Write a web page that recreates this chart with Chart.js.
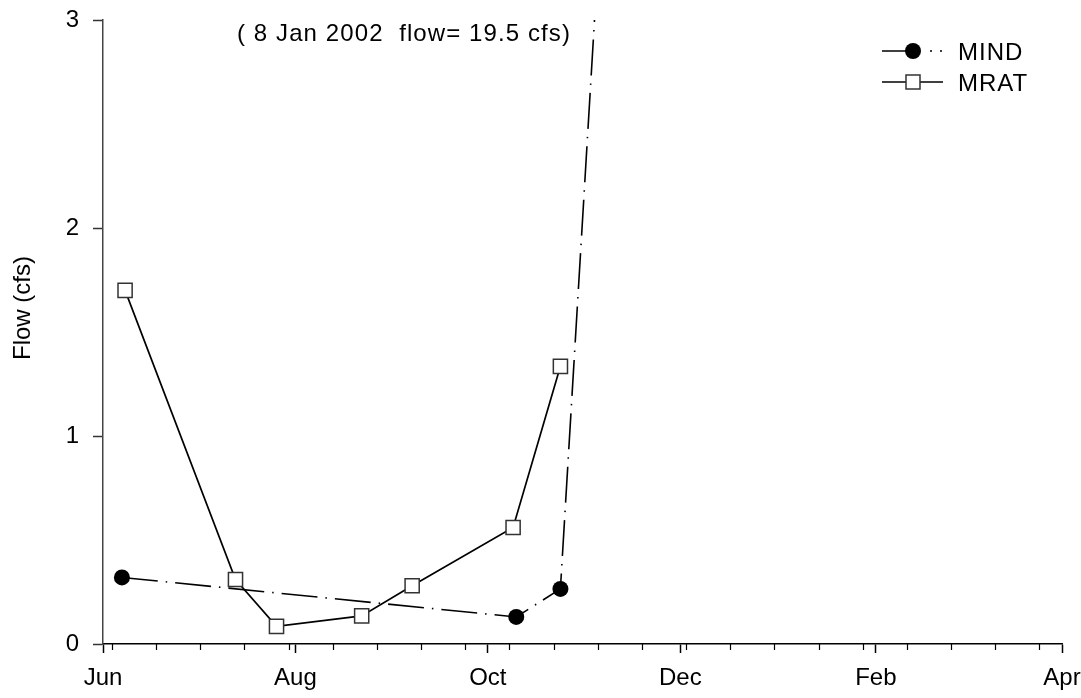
<!DOCTYPE html>
<html>
<head>
<meta charset="utf-8">
<script src="https://cdn.jsdelivr.net/npm/chart.js@4.4.1/dist/chart.umd.min.js"></script>
<style>
  body { margin: 0; background: #fff; }
  #wrap { width: 1081px; height: 698px; position: relative; }
</style>
</head>
<body>
<div id="wrap"><canvas id="flowChart"></canvas></div>
<script>
// x values are days counted from 1 Jun 2001
const mindDays = [6, 131, 145, 221];
const mindFlow = [0.32, 0.13, 0.265, 19.5];
const mratDays = [7, 42, 55, 82, 98, 130, 145];
const mratFlow = [1.70, 0.31, 0.085, 0.135, 0.28, 0.56, 1.335];
const monthTickDays = [0, 61, 122, 183, 245, 304];
const monthLabels = ['Jun', 'Aug', 'Oct', 'Dec', 'Feb', 'Apr'];
const flowTicks = [0, 1, 2, 3];
const seriesNames = ['MIND', 'MRAT'];
const noteText = '( 8 Jan 2002  flow= 19.5 cfs)';
const yTitle = 'Flow (cfs)';

const FONT = '"Liberation Sans", Arial, sans-serif';
const mindDash = [36, 8, 1.5, 8];

// minor ticks every two weeks, starting 4 Jun 2001
const minorTickDays = [];
for (let d = 3; d < 304; d += 14) minorTickDays.push(d);

const toPoints = (days, vals) => days.map((d, i) => ({ x: d, y: vals[i] }));

// note, y title and legend drawn on top of the chart
const decorations = {
    id: 'decorations',
    afterDraw(chart) {
        const ctx = chart.ctx;
        ctx.save();
        ctx.fillStyle = '#000';
        ctx.font = '24px ' + FONT;
        ctx.textBaseline = 'alphabetic';

        ctx.letterSpacing = '1.1px';
        ctx.textAlign = 'center';
        ctx.fillText(noteText, 404, 41);
        ctx.letterSpacing = '0px';

        ctx.save();
        ctx.translate(30, 308);
        ctx.rotate(-Math.PI / 2);
        ctx.fillText(yTitle, 0, 0);
        ctx.restore();

        // legend
        ctx.textAlign = 'left';
        ctx.letterSpacing = '1px';
        ctx.strokeStyle = '#000';
        ctx.lineWidth = 1.5;

        // MIND row
        let y = 51;
        ctx.beginPath();
        ctx.moveTo(882, y);
        ctx.lineTo(910, y);
        ctx.stroke();
        ctx.setLineDash([2, 8]);
        ctx.beginPath();
        ctx.moveTo(930, y);
        ctx.lineTo(945, y);
        ctx.stroke();
        ctx.setLineDash([]);
        ctx.beginPath();
        ctx.arc(913, y, 8, 0, Math.PI * 2);
        ctx.fill();
        ctx.fillText(seriesNames[0], 958, y + 9);

        // MRAT row
        y = 82;
        ctx.beginPath();
        ctx.moveTo(882, y);
        ctx.lineTo(943, y);
        ctx.stroke();
        ctx.fillStyle = '#fff';
        ctx.fillRect(906, y - 7, 14, 14);
        ctx.strokeStyle = '#333';
        ctx.strokeRect(906, y - 7, 14, 14);
        ctx.fillStyle = '#000';
        ctx.fillText(seriesNames[1], 958, y + 9);

        ctx.restore();
    }
};

const tickFont = { family: FONT, size: 24 };

new Chart(document.getElementById('flowChart'), {
    type: 'line',
    data: {
        datasets: [{
            label: seriesNames[0],
            data: toPoints(mindDays, mindFlow),
            borderColor: '#000',
            borderWidth: 1.6,
            borderDash: mindDash,
            pointStyle: 'circle',
            pointRadius: 8,
            pointBackgroundColor: '#000',
            pointBorderColor: '#000',
            pointBorderWidth: 0
        }, {
            label: seriesNames[1],
            data: toPoints(mratDays, mratFlow),
            borderColor: '#000',
            borderWidth: 1.7,
            pointStyle: 'rect',
            pointRadius: 10,
            pointBackgroundColor: '#fff',
            pointBorderColor: '#333',
            pointBorderWidth: 1.5
        }]
    },
    options: {
        responsive: true,
        maintainAspectRatio: false,
        animation: false,
        layout: { autoPadding: false, padding: { top: 20, right: 19, left: 0, bottom: 0 } },
        plugins: {
            legend: { display: false },
            tooltip: { enabled: false }
        },
        scales: {
            x: {
                type: 'linear',
                min: 0,
                max: 304,
                afterBuildTicks: s => { s.ticks = monthTickDays.map(v => ({ value: v })); },
                afterFit: s => { s.height = 54; s.paddingLeft = 0; s.paddingRight = 0; },
                grid: { drawOnChartArea: false, tickLength: 9, tickColor: '#000', tickWidth: 1.5 },
                border: { color: '#000', width: 1.5 },
                ticks: {
                    callback: (v, i) => monthLabels[i],
                    font: tickFont,
                    color: '#000',
                    padding: 11,
                    maxRotation: 0,
                    autoSkip: false
                }
            },
            xMinor: {
                axis: 'x',
                type: 'linear',
                min: 0,
                max: 304,
                position: { y: 0 },
                afterBuildTicks: s => { s.ticks = minorTickDays.map(v => ({ value: v })); },
                grid: { drawOnChartArea: false, tickLength: 6, tickColor: '#000', tickWidth: 1.2 },
                border: { display: false },
                ticks: { display: false }
            },
            y: {
                min: 0,
                max: 3,
                afterBuildTicks: s => { s.ticks = flowTicks.map(v => ({ value: v })); },
                afterFit: s => { s.width = 103; s.paddingTop = 0; s.paddingBottom = 0; },
                grid: { drawOnChartArea: false, tickLength: 10, tickColor: '#333', tickWidth: 1.5 },
                border: { color: '#444', width: 1.5 },
                ticks: { font: tickFont, color: '#000', padding: 14 }
            }
        }
    },
    plugins: [decorations]
});
</script>
</body>
</html>
